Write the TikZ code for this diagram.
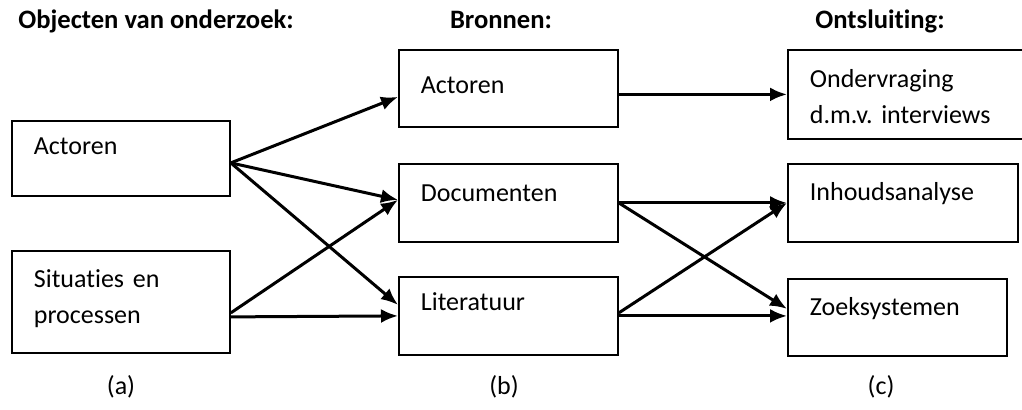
\documentclass[tikz,border=0pt]{standalone}
\usepackage{fontspec}
\setmainfont{Carlito}[Ligatures=NoCommon]
\usetikzlibrary{arrows.meta}
\frenchspacing

\begin{document}
\begin{tikzpicture}[x=0.5pt,y=-0.5pt,>={Latex[length=8.5pt,width=7pt]},
	font=\fontsize{13pt}{18pt}\selectfont,
	blok/.style={draw,line width=0.9pt,anchor=north west,align=left,
		inner xsep=11pt,inner ysep=0pt},
	kop/.style={font=\fontsize{13.3pt}{18pt}\selectfont\bfseries,inner sep=0pt},
	pijl/.style={->,line width=1.5pt}]
\clip (0,0) rectangle (1022,410);

\node[kop,anchor=base west] (KopObj) at (18,29) {Objecten van onderzoek:};
\node[kop,anchor=base] (KopBron) at (501,29) {Bronnen:};
\node[kop,anchor=base] (KopOnts) at (880,29) {Ontsluiting:};

\node[blok,text width=87pt,text height=17pt,text depth=20.5pt] (ObjAct) at (11,120) {Actoren};
\node[blok,text width=87pt,text height=18.5pt,text depth=32.5pt] (ObjSit) at (11,250) {Situaties en\\processen};

\node[blok,text width=87.5pt,text height=22pt,text depth=16.5pt] (BronAct) at (398,49) {Actoren};
\node[blok,text width=87.5pt,text height=19pt,text depth=20pt] (BronDoc) at (398,163) {Documenten};
\node[blok,text width=87.5pt,text height=17pt,text depth=22pt] (BronLit) at (398,276) {Literatuur};

\node[blok,text width=100pt,text height=19pt,text depth=25.5pt] (OntsOnd) at (787,49) {Ondervraging\\d.m.v. interviews};
\node[blok,text width=93pt,text height=18.5pt,text depth=20.5pt] (OntsInh) at (787,163) {Inhoudsanalyse};
\node[blok,text width=87.5pt,text height=18.5pt,text depth=20pt] (OntsZoek) at (787,278) {Zoeksystemen};

\node[anchor=base] (LabA) at (121,395) {(a)};
\node[anchor=base] (LabB) at (504,395) {(b)};
\node[anchor=base] (LabC) at (881,395) {(c)};

\draw[pijl] ([yshift=-2.25pt]ObjAct.east) -- ([yshift=-4.25pt]BronAct.west);
\draw[pijl] ([yshift=-2.25pt]ObjAct.east) -- ([yshift=1.5pt]BronDoc.west);
\draw[pijl] ([yshift=-2.25pt]ObjAct.east) -- ([yshift=5.5pt]BronLit.west);
\draw[pijl] ([yshift=-5.5pt]ObjSit.east) -- ([yshift=1.5pt]BronDoc.west);
\draw[pijl] ([yshift=-7.5pt]ObjSit.east) -- (BronLit.west);

\draw[pijl] ([yshift=-3pt]BronAct.east) -- (OntsOnd.west);
\draw[pijl] (BronDoc.east) -- (OntsInh.west);
\draw[pijl] (BronDoc.east) -- ([yshift=4.25pt]OntsZoek.west);
\draw[pijl] ([yshift=1.5pt]BronLit.east) -- (OntsInh.west);
\draw[pijl] (BronLit.east) -- (BronLit.east -| OntsZoek.west);
\end{tikzpicture}
\end{document}
